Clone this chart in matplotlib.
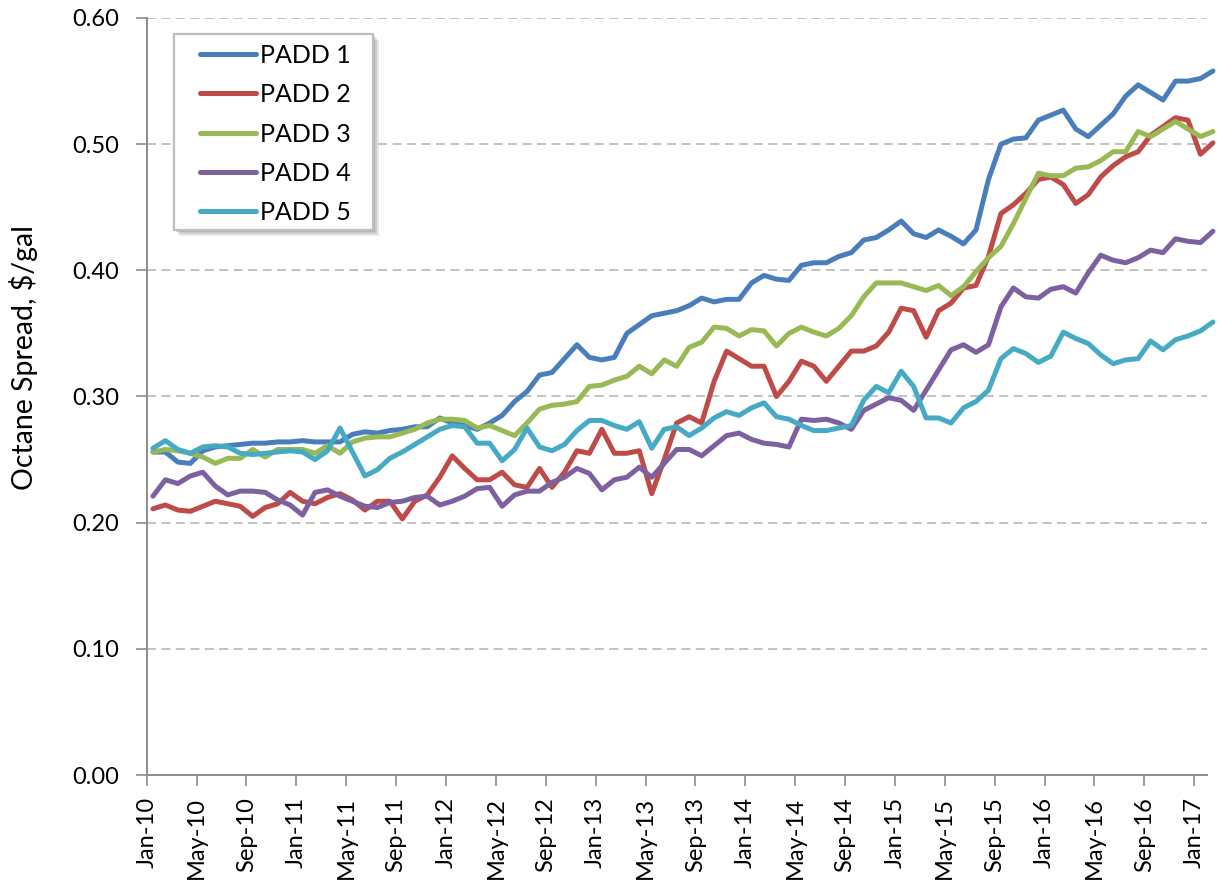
import numpy as np
import matplotlib
matplotlib.use("Agg")
import matplotlib.pyplot as plt
from matplotlib.patches import Rectangle

# monthly octane spread by PADD, Jan-10 .. Feb-17 ($/gal)
padd1 = [0.256, 0.256, 0.248, 0.247, 0.257, 0.260, 0.261, 0.262, 0.263, 0.263,
         0.264, 0.264, 0.265, 0.264, 0.264, 0.264, 0.270, 0.272, 0.271, 0.273,
         0.274, 0.276, 0.276, 0.283, 0.279, 0.277, 0.274, 0.279, 0.285, 0.296,
         0.304, 0.317, 0.319, 0.330, 0.341, 0.331, 0.329, 0.331, 0.350, 0.357,
         0.364, 0.366, 0.368, 0.372, 0.378, 0.375, 0.377, 0.377, 0.390, 0.396,
         0.393, 0.392, 0.404, 0.406, 0.406, 0.411, 0.414, 0.424, 0.426, 0.432,
         0.439, 0.429, 0.426, 0.432, 0.427, 0.421, 0.432, 0.472, 0.500, 0.504,
         0.505, 0.519, 0.523, 0.527, 0.512, 0.506, 0.515, 0.524, 0.538, 0.547,
         0.541, 0.535, 0.550, 0.550, 0.552, 0.558]
padd2 = [0.211, 0.214, 0.210, 0.209, 0.213, 0.217, 0.215, 0.213, 0.205, 0.212,
         0.215, 0.224, 0.217, 0.215, 0.220, 0.223, 0.218, 0.210, 0.217, 0.217,
         0.203, 0.217, 0.222, 0.236, 0.253, 0.243, 0.234, 0.234, 0.240, 0.230,
         0.228, 0.243, 0.228, 0.240, 0.257, 0.255, 0.274, 0.255, 0.255, 0.257,
         0.223, 0.250, 0.279, 0.284, 0.279, 0.312, 0.336, 0.330, 0.324, 0.324,
         0.300, 0.312, 0.328, 0.324, 0.312, 0.324, 0.336, 0.336, 0.340, 0.351,
         0.370, 0.368, 0.347, 0.368, 0.374, 0.386, 0.388, 0.411, 0.445, 0.452,
         0.461, 0.472, 0.474, 0.468, 0.453, 0.460, 0.474, 0.483, 0.490, 0.494,
         0.507, 0.514, 0.521, 0.519, 0.492, 0.501]
padd3 = [0.256, 0.258, 0.257, 0.255, 0.252, 0.247, 0.251, 0.251, 0.258, 0.252,
         0.258, 0.258, 0.258, 0.255, 0.261, 0.255, 0.264, 0.267, 0.268, 0.268,
         0.271, 0.274, 0.279, 0.282, 0.282, 0.281, 0.275, 0.277, 0.273, 0.269,
         0.279, 0.290, 0.293, 0.294, 0.296, 0.308, 0.309, 0.313, 0.316, 0.324,
         0.318, 0.329, 0.324, 0.339, 0.343, 0.355, 0.354, 0.348, 0.353, 0.352,
         0.340, 0.350, 0.355, 0.351, 0.348, 0.354, 0.364, 0.379, 0.390, 0.390,
         0.390, 0.387, 0.384, 0.388, 0.380, 0.387, 0.399, 0.410, 0.419, 0.437,
         0.457, 0.477, 0.475, 0.475, 0.481, 0.482, 0.487, 0.494, 0.494, 0.510,
         0.506, 0.512, 0.518, 0.512, 0.506, 0.510]
padd4 = [0.221, 0.234, 0.231, 0.237, 0.240, 0.229, 0.222, 0.225, 0.225, 0.224,
         0.218, 0.214, 0.206, 0.224, 0.226, 0.221, 0.217, 0.213, 0.212, 0.216,
         0.217, 0.220, 0.221, 0.214, 0.217, 0.221, 0.227, 0.228, 0.213, 0.222,
         0.225, 0.225, 0.232, 0.236, 0.243, 0.239, 0.226, 0.234, 0.236, 0.244,
         0.236, 0.247, 0.258, 0.258, 0.253, 0.261, 0.269, 0.271, 0.266, 0.263,
         0.262, 0.260, 0.282, 0.281, 0.282, 0.279, 0.274, 0.289, 0.294, 0.299,
         0.297, 0.289, 0.305, 0.321, 0.337, 0.341, 0.335, 0.341, 0.371, 0.386,
         0.379, 0.378, 0.385, 0.387, 0.382, 0.398, 0.412, 0.408, 0.406, 0.410,
         0.416, 0.414, 0.425, 0.423, 0.422, 0.431]
padd5 = [0.259, 0.265, 0.258, 0.255, 0.260, 0.261, 0.260, 0.255, 0.254, 0.255,
         0.256, 0.257, 0.256, 0.250, 0.257, 0.275, 0.256, 0.237, 0.242, 0.251,
         0.256, 0.262, 0.268, 0.274, 0.277, 0.276, 0.263, 0.263, 0.249, 0.258,
         0.275, 0.260, 0.257, 0.262, 0.273, 0.281, 0.281, 0.277, 0.274, 0.280,
         0.259, 0.274, 0.276, 0.269, 0.275, 0.283, 0.288, 0.285, 0.291, 0.295,
         0.284, 0.282, 0.277, 0.273, 0.273, 0.275, 0.277, 0.297, 0.308, 0.303,
         0.320, 0.308, 0.283, 0.283, 0.279, 0.291, 0.296, 0.305, 0.330, 0.338,
         0.334, 0.327, 0.332, 0.351, 0.346, 0.342, 0.333, 0.326, 0.329, 0.330,
         0.344, 0.337, 0.345, 0.348, 0.352, 0.359]

series_names = ["PADD 1", "PADD 2", "PADD 3", "PADD 4", "PADD 5"]
series_colors = ["#4A7EBB", "#BE4B48", "#98B954", "#7D60A0", "#46AAC5"]

tick_labels = ["Jan-10", "May-10", "Sep-10", "Jan-11", "May-11", "Sep-11",
               "Jan-12", "May-12", "Sep-12", "Jan-13", "May-13", "Sep-13",
               "Jan-14", "May-14", "Sep-14", "Jan-15", "May-15", "Sep-15",
               "Jan-16", "May-16", "Sep-16", "Jan-17"]
y_ticks = [0.0, 0.1, 0.2, 0.3, 0.4, 0.5, 0.6]

W, H = 1217, 880
AXIS_GRAY = "#8C8C8C"


def fx(px):
    return px / W


def fy(py):
    return 1 - py / H


def main():
    plt.rcParams['font.family'] = ['Lato', 'DejaVu Sans']

    fig = plt.figure(figsize=(W / 100, H / 100), dpi=100)
    ax = fig.add_axes([fx(146.7), fy(775), (1206.7 - 146.7) / W, (775 - 18) / H])

    # ==========================================
    # lines (points sit mid-month, ticks at month start)
    # ==========================================
    data = [padd1, padd2, padd3, padd4, padd5]
    x = np.arange(len(padd1)) + 0.5
    handles = []
    for vals, name, col in zip(data, series_names, series_colors):
        ln, = ax.plot(x, vals, color=col, lw=3.6, label=name, clip_on=False,
                      solid_joinstyle='round', solid_capstyle='round', zorder=3)
        handles.append(ln)

    ax.set_xlim(0, len(padd1) - 1)
    ax.set_ylim(0, 0.6)

    # ==========================================
    # axes styling
    # ==========================================
    ax.set_xticks(np.arange(len(tick_labels)) * 4)
    ax.set_xticklabels(tick_labels, rotation=90)
    ax.set_yticks(y_ticks)
    ax.set_yticklabels([f"{v:.2f}" for v in y_ticks])

    for s in ['top', 'right']:
        ax.spines[s].set_visible(False)
    for s in ['left', 'bottom']:
        ax.spines[s].set_color(AXIS_GRAY)
        ax.spines[s].set_linewidth(1.4)

    ax.tick_params(axis='y', direction='out', length=8, width=1.2,
                   color=AXIS_GRAY, pad=12, labelsize=17)
    ax.tick_params(axis='x', direction='out', length=8, width=1.2,
                   color=AXIS_GRAY, pad=8, labelsize=17)

    ax.yaxis.grid(True, color='#BDBDBD', lw=1.3, linestyle=(0, (5, 3)))
    ax.set_axisbelow(True)

    fig.text(fx(24), fy(358), "Octane Spread, $/gal", rotation=90,
             ha='center', va='center', fontsize=20.5)

    # ==========================================
    # legend: frame + soft shadow drawn by hand
    # ==========================================
    bx0, by0, bx1, by1 = 174, 34, 373, 230
    for off, a in [(6, 0.18), (4, 0.25), (2, 0.3)]:
        ax.add_patch(Rectangle((fx(bx0 + off), fy(by1 + off)), fx(bx1 - bx0), (by1 - by0) / H,
                               transform=fig.transFigure, facecolor='#7F7F7F', edgecolor='none',
                               alpha=a, zorder=4, clip_on=False))
    ax.add_patch(Rectangle((fx(bx0), fy(by1)), fx(bx1 - bx0), (by1 - by0) / H,
                           transform=fig.transFigure, facecolor='white', edgecolor='#BFBFBF',
                           lw=1.6, zorder=4.5, clip_on=False))

    leg = ax.legend(handles=handles, loc='upper left', bbox_to_anchor=(fx(200), fy(44)),
                    bbox_transform=fig.transFigure, frameon=False, fontsize=18,
                    handlelength=2.25, handletextpad=0.16, labelspacing=0.65,
                    borderpad=0, borderaxespad=0)
    leg.set_zorder(6)

    fig.savefig("out.png", dpi=100)
    plt.close(fig)


if __name__ == "__main__":
    main()
